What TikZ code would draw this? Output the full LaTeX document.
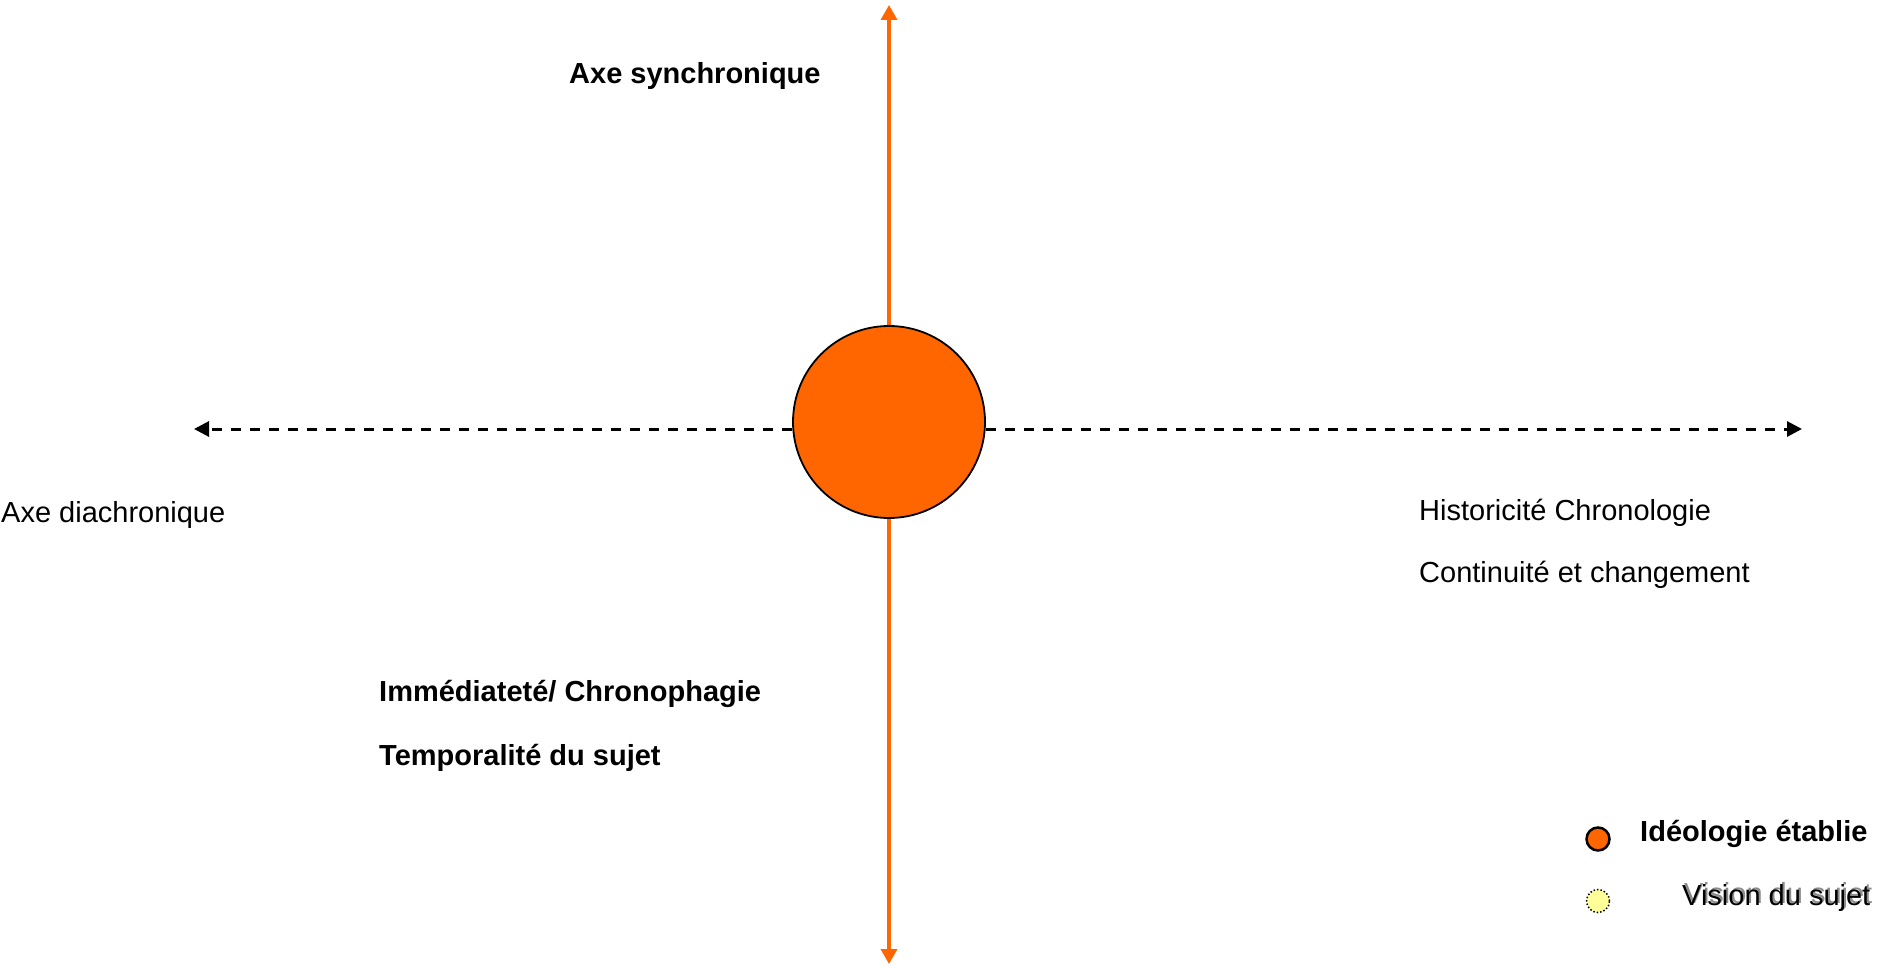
\documentclass[tikz,border=0pt]{standalone}
\usepackage{fontspec}
\setmainfont{Liberation Sans}
\usetikzlibrary{arrows.meta}
\definecolor{ideoorange}{HTML}{FF6600}
\definecolor{visionyellow}{HTML}{FFFF99}
\begin{document}
\begin{tikzpicture}[x=1pt,y=-1pt,
  plaintext/.style={anchor=base west, inner sep=0pt, font=\fontsize{29}{35}\selectfont},
  boldtext/.style={plaintext, font=\fontsize{29}{35}\selectfont\bfseries},
  synaxis/.style={draw=ideoorange, line width=3.5pt, -{Triangle[length=15pt,width=16pt]}},
  diaaxis/.style={draw=black, line width=3pt, dash pattern=on 10pt off 9pt, -{Triangle[length=15pt,width=15pt]}},
  bigdot/.style={circle, inner sep=0pt, draw=black},
]
\useasboundingbox (0,0) rectangle (1878,966);

% central circle: the established ideology
\node[bigdot, fill=ideoorange, line width=1.8pt, minimum size=192pt] (ideo) at (889,422) {};

% axis end points
\coordinate (syntop) at (889,5);
\coordinate (synbot) at (889,964);
\coordinate (dialeft) at (194,429);
\coordinate (diaright) at (1802,429);

% synchronic axis (vertical, orange)
\draw[synaxis] (ideo) -- (syntop);
\draw[synaxis] (ideo) -- (synbot);

% diachronic axis (horizontal, dashed)
\draw[diaaxis] (dialeft -| ideo.west) -- (dialeft);
\draw[diaaxis] (diaright -| ideo.east) -- (diaright);

% axis labels
\node[boldtext] (synlabel) at (569,84) {Axe synchronique};
\node[plaintext] (dialabel) at (1,522) {Axe diachronique};
\node[plaintext] (histlabel) at (1419,520) {Historicité Chronologie};
\node[plaintext] (contlabel) at (1419,582) {Continuité et changement};
\node[boldtext] (immlabel) at (379,701) {Immédiateté/ Chronophagie};
\node[boldtext] (templabel) at (379,765) {Temporalité du sujet};

% legend
\node[bigdot, fill=ideoorange, line width=2.5pt, minimum size=23pt] (legideo) at (1598,839) {};
\node[boldtext] (legideotext) at (1640,841) {Idéologie établie};
\node[bigdot, fill=visionyellow, dotted, line width=1.5pt, minimum size=23pt] (legvision) at (1598,901) {};
\node[plaintext, text=black!45] (legvisionshadow) at (1684,903) {Vision du sujet};
\node[plaintext] (legvisiontext) at (1682,905) {Vision du sujet};
\end{tikzpicture}
\end{document}
